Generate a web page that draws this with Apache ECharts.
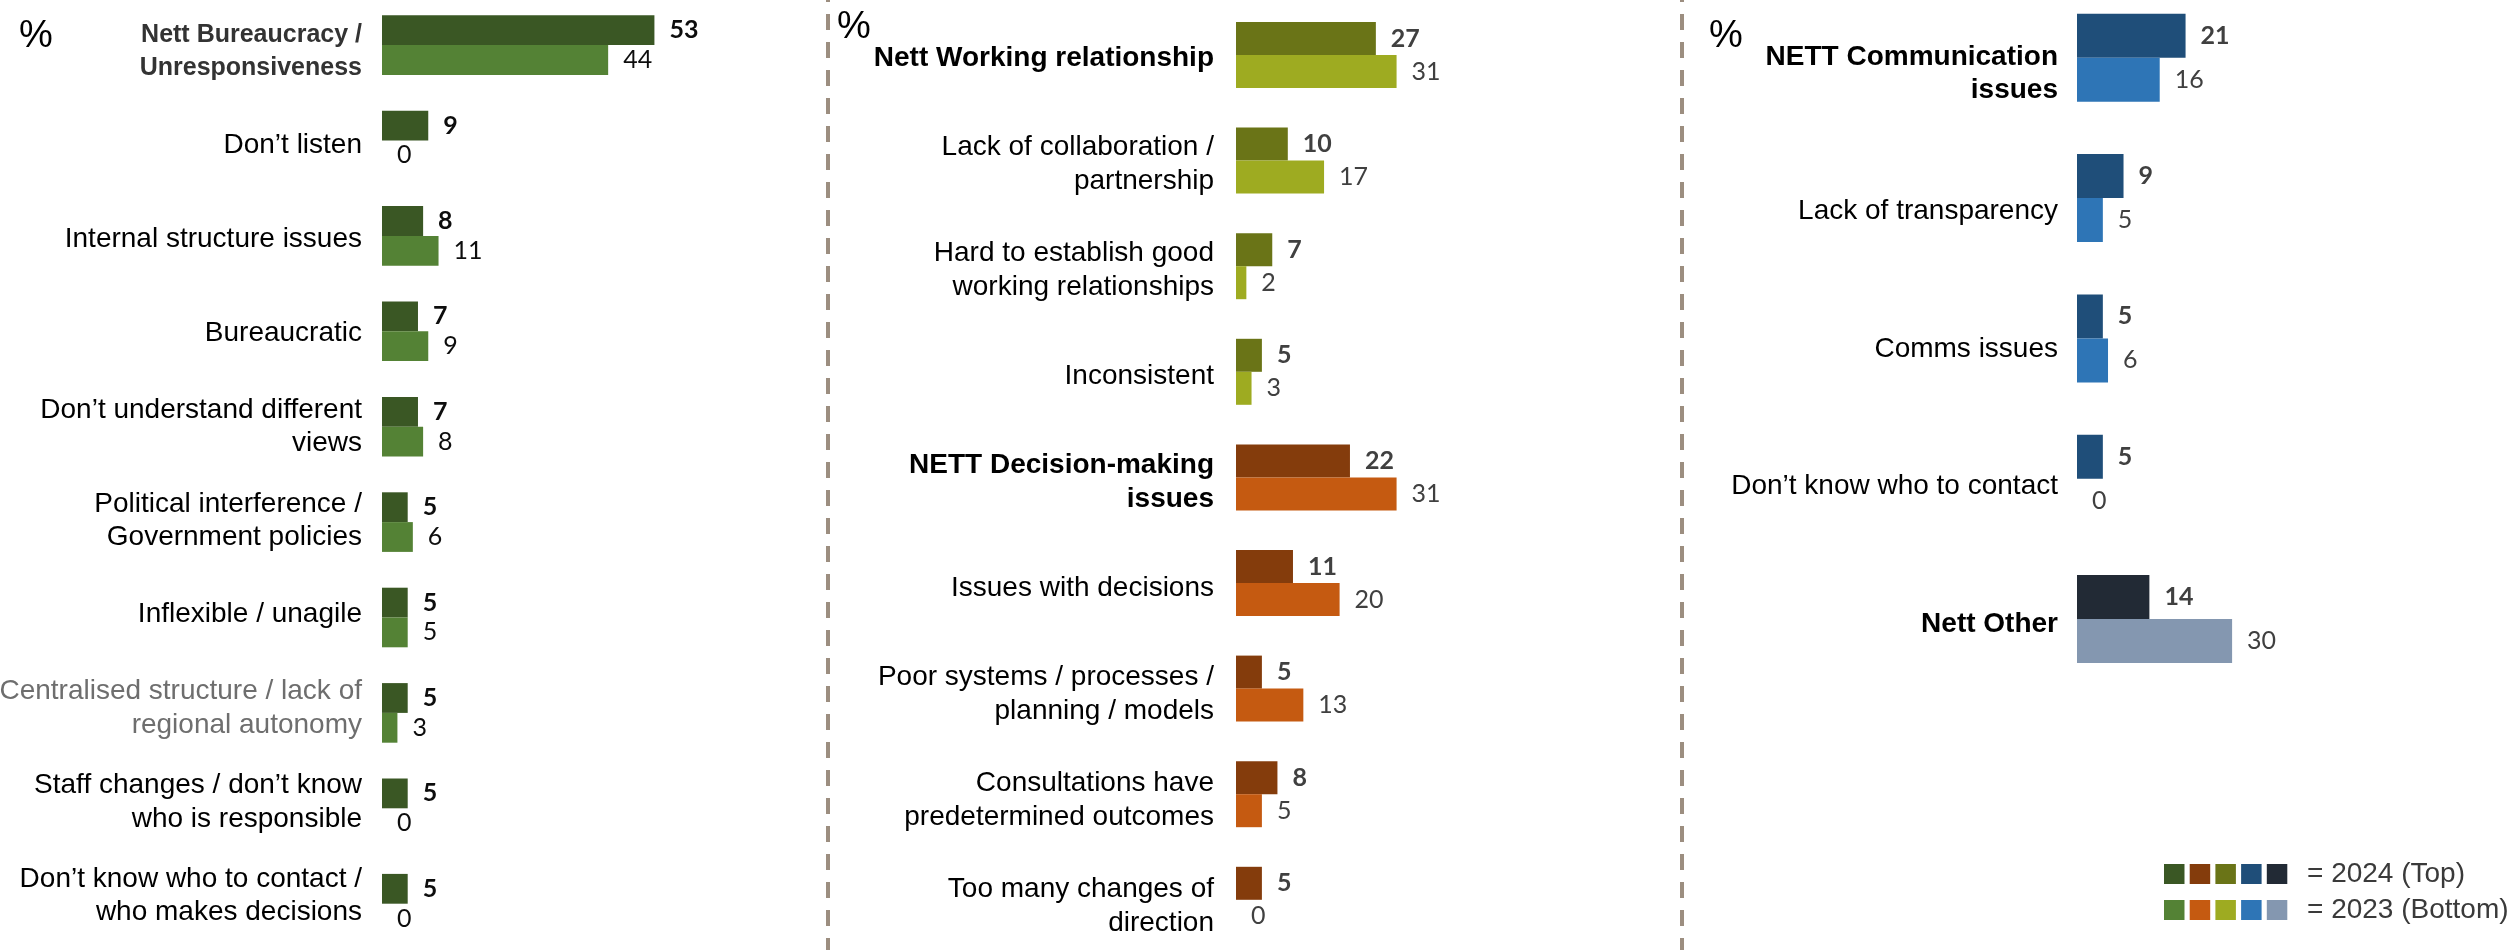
<!DOCTYPE html>
<html>
<head>
<meta charset="utf-8">
<script src="https://cdn.jsdelivr.net/npm/echarts@6/dist/echarts.min.js"></script>
<style>
  html, body { margin: 0; padding: 0; background: #ffffff; }
  #chart { width: 2517px; height: 950px; }
</style>
</head>
<body>
<div id="chart"></div>
<script>
// ---- Panel 1: bureaucracy / unresponsiveness ----
const bureaucracyCategories = [
  'Nett Bureaucracy /\nUnresponsiveness',
  'Don’t listen',
  'Internal structure issues',
  'Bureaucratic',
  'Don’t understand different\nviews',
  'Political interference /\nGovernment policies',
  'Inflexible / unagile',
  'Centralised structure / lack of\nregional autonomy',
  'Staff changes / don’t know\nwho is responsible',
  'Don’t know who to contact /\nwho makes decisions'
];
const bureaucracy2024 = [53, 9, 8, 7, 7, 5, 5, 5, 5, 5];
const bureaucracy2023 = [44, 0, 11, 9, 8, 6, 5, 3, 0, 0];

// ---- Panel 2: working relationship + decision-making ----
const relationshipCategories = [
  'Nett Working relationship',
  'Lack of collaboration /\npartnership',
  'Hard to establish good\nworking relationships',
  'Inconsistent',
  'NETT Decision-making\nissues',
  'Issues with decisions',
  'Poor systems / processes /\nplanning / models',
  'Consultations have\npredetermined outcomes',
  'Too many changes of\ndirection'
];
const relationshipTheme = ['relationship', 'relationship', 'relationship', 'relationship',
  'decision', 'decision', 'decision', 'decision', 'decision'];
const relationship2024 = [27, 10, 7, 5, 22, 11, 5, 8, 5];
const relationship2023 = [31, 17, 2, 3, 31, 20, 13, 5, 0];

// ---- Panel 3: communication + other ----
const communicationCategories = [
  'NETT Communication\nissues',
  'Lack of transparency',
  'Comms issues',
  'Don’t know who to contact',
  'Nett Other'
];
const communicationTheme = ['communication', 'communication', 'communication', 'communication', 'other'];
const communication2024 = [21, 9, 5, 5, 14];
const communication2023 = [16, 5, 6, 0, 30];

const legendLabels = ['= 2024 (Top)', '= 2023 (Bottom)'];

// colour pairs: [2024, 2023]
const palette = {
  bureaucracy:   ['#3A5724', '#548235'],
  decision:      ['#843C0C', '#C55A11'],
  relationship:  ['#6A7417', '#9EAB21'],
  communication: ['#1F4E79', '#2E75B6'],
  other:         ['#222A35', '#8497B0']
};
const legendOrder = ['bureaucracy', 'decision', 'relationship', 'communication', 'other'];

const LABEL_FONT = '"Liberation Sans", Arial, sans-serif';
const NUM_FONT = 'Lato, "Open Sans", sans-serif';
const X_MAX = 60;

// per-label text styling
const labelStyle = {
  'Nett Bureaucracy /\nUnresponsiveness': { fontWeight: 'bold', color: '#333333', fontSize: 25 },
  'Nett Working relationship': { fontWeight: 'bold' },
  'NETT Decision-making\nissues': { fontWeight: 'bold' },
  'NETT Communication\nissues': { fontWeight: 'bold' },
  'Nett Other': { fontWeight: 'bold' },
  'Centralised structure / lack of\nregional autonomy': { color: '#6E6E6E' }
};

const panels = [
  {
    cats: bureaucracyCategories, top: bureaucracy2024, bottom: bureaucracy2023,
    theme: bureaucracyCategories.map(() => 'bureaucracy'),
    bars: { left: 382, top: -2.6, width: 308.4, height: 954 },
    labels: { top: 4.8, height: 938 }, margin: 20, barWidth: 29.8, numColour: '#0D0D0D'
  },
  {
    cats: relationshipCategories, top: relationship2024, bottom: relationship2023,
    theme: relationshipTheme,
    bars: { left: 1236, top: 2.2, width: 310.8, height: 950.4 },
    labels: { top: 5.5, height: 954 }, margin: 22, barWidth: 33, numColour: '#404040'
  },
  {
    cats: communicationCategories, top: communication2024, bottom: communication2023,
    theme: communicationTheme,
    bars: { left: 2077, top: -12.35, width: 310.2, height: 701.5 },
    labels: { top: 5.15, height: 687.5 }, margin: 19, barWidth: 44, numColour: '#404040'
  }
];

const grid = [], xAxis = [], yAxis = [], series = [];

panels.forEach((p) => {
  const barGridIdx = grid.length;
  grid.push({ left: p.bars.left, top: p.bars.top, width: p.bars.width, height: p.bars.height,
    containLabel: false, outerBoundsMode: 'none' });
  const labelGridIdx = grid.length;
  grid.push({ left: p.bars.left, top: p.labels.top, width: p.bars.width, height: p.labels.height,
    containLabel: false, outerBoundsMode: 'none' });

  // value axis for the bars
  xAxis.push({ gridIndex: barGridIdx, type: 'value', min: 0, max: X_MAX, show: false });
  yAxis.push({
    gridIndex: barGridIdx, type: 'category', inverse: true, data: p.cats,
    axisLine: { show: false }, axisTick: { show: false }, axisLabel: { show: false },
    splitLine: { show: false }
  });
  // category-label axis
  xAxis.push({ gridIndex: labelGridIdx, type: 'value', min: 0, max: 1, show: false });
  yAxis.push({
    gridIndex: labelGridIdx, type: 'category', inverse: true,
    data: p.cats.map((c) => ({
      value: c,
      textStyle: Object.assign({ fontWeight: 'normal', color: '#000000', fontFamily: LABEL_FONT },
        labelStyle[c] || {})
    })),
    axisLine: { show: false }, axisTick: { show: false }, splitLine: { show: false },
    axisLabel: {
      interval: 0, margin: p.margin, fontFamily: LABEL_FONT, fontSize: 28,
      lineHeight: 33.5, align: 'right', color: '#000000'
    }
  });

  const xi = xAxis.length - 2, yi = yAxis.length - 2;
  [p.top, p.bottom].forEach((vals, k) => {
    series.push({
      type: 'bar', xAxisIndex: xi, yAxisIndex: yi,
      data: vals, barWidth: p.barWidth, barGap: '0%',
      itemStyle: { color: (params) => palette[p.theme[params.dataIndex]][k] },
      label: {
        show: true, position: 'right', distance: 15,
        fontFamily: NUM_FONT, fontSize: 25,
        fontWeight: k === 0 ? 'bold' : 'normal',
        color: p.numColour
      },
      animation: false, silent: true
    });
  });
});

// separators, percent marks and colour key
const graphic = [];
[828, 1682].forEach((x) => {
  graphic.push({
    type: 'line', shape: { x1: x, y1: -14, x2: x, y2: 960 },
    style: { stroke: '#9C8E80', lineWidth: 4, lineDash: [16, 12] }, silent: true
  });
});
[[19, 37], [837, 27.3], [1709, 36.8]].forEach(([x, y]) => {
  graphic.push({
    type: 'text', x: x, y: y,
    style: { text: '%', font: '38px "Liberation Sans", Arial, sans-serif',
      fill: '#000000', textVerticalAlign: 'middle', textAlign: 'left' }
  });
});
[0, 1].forEach((row) => {
  const y = row === 0 ? 864 : 900;
  legendOrder.forEach((key, i) => {
    graphic.push({
      type: 'rect', shape: { x: 2164 + i * 25.7, y: y, width: 20.5, height: 20 },
      style: { fill: palette[key][row] }
    });
  });
  graphic.push({
    type: 'text', x: 2307, y: y + 10,
    style: { text: legendLabels[row], font: '28px "Liberation Sans", Arial, sans-serif',
      fill: '#3A3A3A', textVerticalAlign: 'middle', textAlign: 'left' }
  });
});

const chart = echarts.init(document.getElementById('chart'), null, { renderer: 'canvas' });
chart.setOption({
  animation: false,
  backgroundColor: '#ffffff',
  grid, xAxis, yAxis, series, graphic
});
</script>
</body>
</html>
